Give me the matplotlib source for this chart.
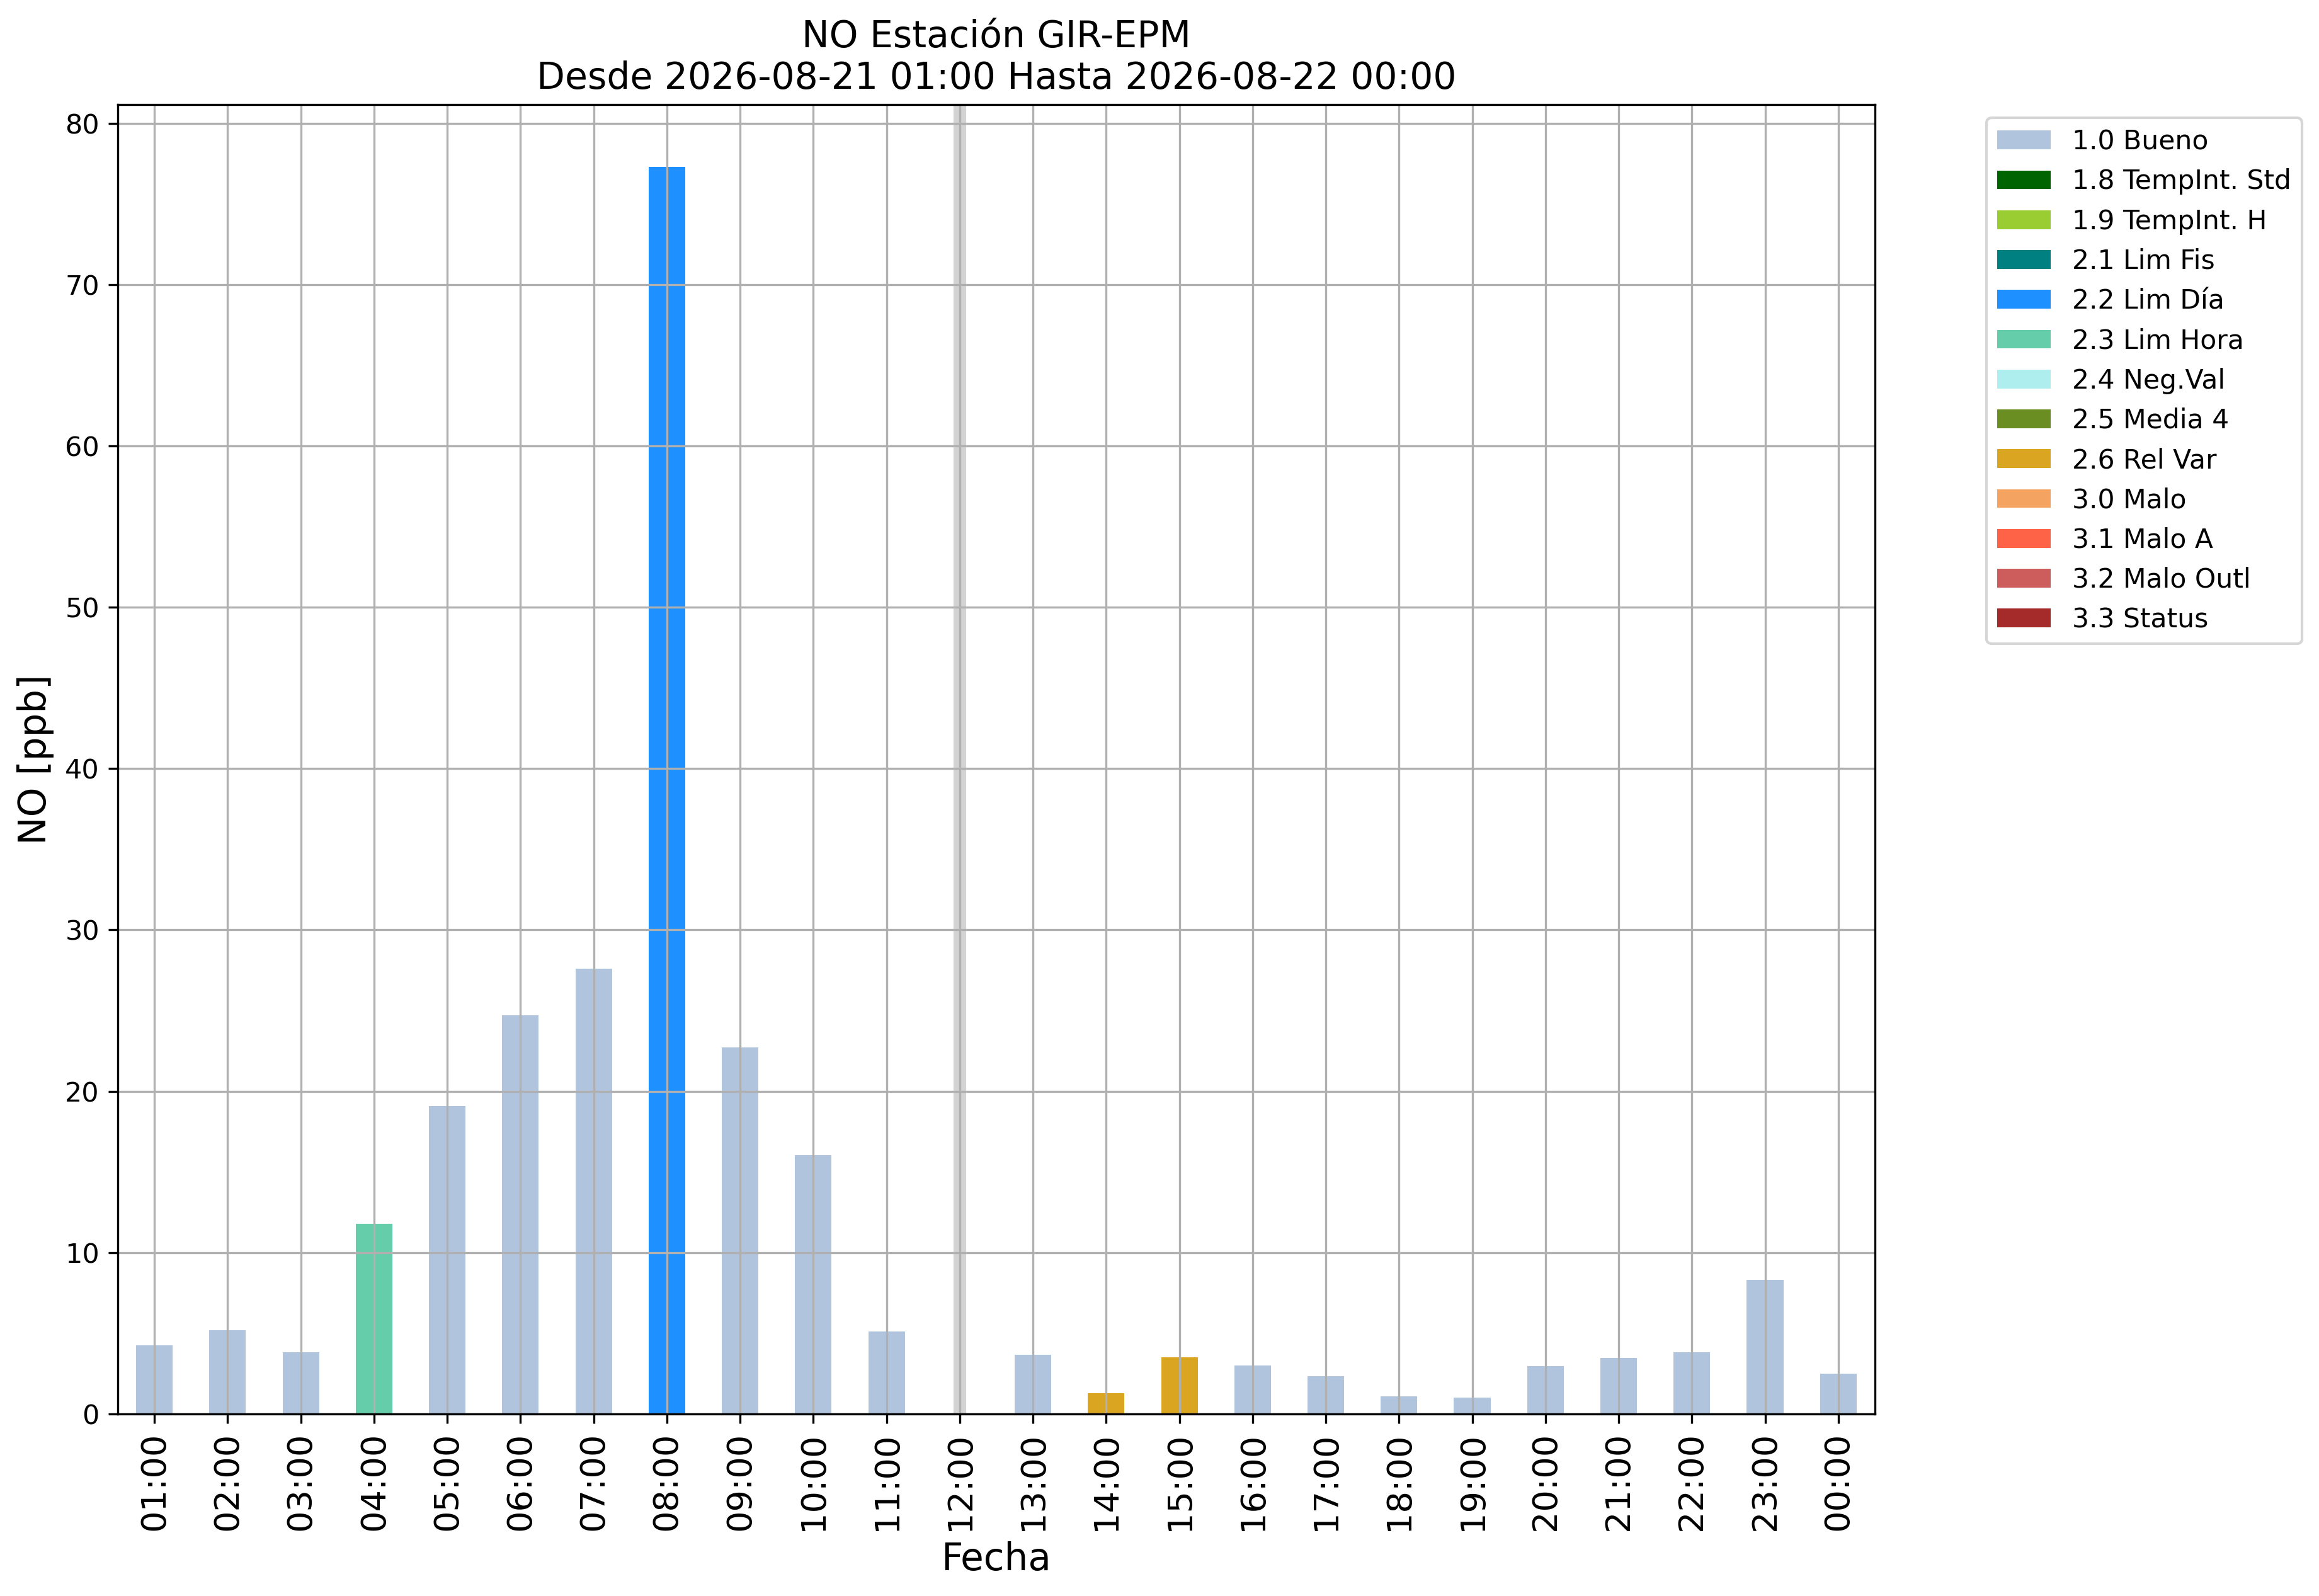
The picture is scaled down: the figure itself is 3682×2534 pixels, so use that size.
import numpy as np
import matplotlib
matplotlib.use('Agg')
import matplotlib.pyplot as plt
from matplotlib.patches import Patch

# datos
horas = ['01:00', '02:00', '03:00', '04:00', '05:00', '06:00', '07:00', '08:00',
         '09:00', '10:00', '11:00', '12:00', '13:00', '14:00', '15:00', '16:00',
         '17:00', '18:00', '19:00', '20:00', '21:00', '22:00', '23:00', '00:00']
valores = [4.26, 5.17, 3.83, 11.78, 19.08, 24.7, 27.6, 77.3,
           22.7, 16.03, 5.1, np.nan, 3.67, 1.29, 3.52, 3.0,
           2.34, 1.09, 1.02, 2.97, 3.48, 3.83, 8.32, 2.5]
banderas = ['1.0', '1.0', '1.0', '2.3', '1.0', '1.0', '1.0', '2.2',
            '1.0', '1.0', '1.0', None, '1.0', '2.6', '2.6', '1.0',
            '1.0', '1.0', '1.0', '1.0', '1.0', '1.0', '1.0', '1.0']

codigos = ['1.0', '1.8', '1.9', '2.1', '2.2', '2.3', '2.4', '2.5', '2.6',
           '3.0', '3.1', '3.2', '3.3']
nombres = ['1.0 Bueno', '1.8 TempInt. Std', '1.9 TempInt. H', '2.1 Lim Fis',
           '2.2 Lim Día', '2.3 Lim Hora', '2.4 Neg.Val', '2.5 Media 4',
           '2.6 Rel Var', '3.0 Malo', '3.1 Malo A', '3.2 Malo Outl', '3.3 Status']
colores = ['lightsteelblue', 'darkgreen', 'yellowgreen', 'teal', 'dodgerblue',
           'mediumaquamarine', 'paleturquoise', 'olivedrab', 'goldenrod',
           'sandybrown', 'tomato', 'indianred', 'brown']
color_de = dict(zip(codigos, colores))

DPI = 300
fig = plt.figure(figsize=(3682 / DPI, 2534 / DPI), dpi=DPI)
ax = fig.add_axes([0.0508, 0.1141, 0.7577, 0.8204])

x = np.arange(len(horas))
for i, (v, b) in enumerate(zip(valores, banderas)):
    if b is None or np.isnan(v):
        # hora sin dato
        ax.axvspan(i - 0.07, i + 0.07, color='lightgray', zorder=0.5)
        continue
    ax.bar(i, v, width=0.5, color=color_de[b])

ax.set_xlim(-0.5, len(horas) - 0.5)
ax.set_ylim(bottom=0)
ax.set_xticks(x)
ax.set_xticklabels(horas, rotation=90, fontsize=13)
ax.tick_params(axis='y', labelsize=10.3)
ax.grid(True)

ax.set_xlabel('Fecha', fontsize=14.3)
ax.set_ylabel('NO [ppb]', fontsize=14.3)
ax.set_title('NO Estación GIR-EPM\nDesde 2026-08-21 01:00 Hasta 2026-08-22 00:00',
             fontsize=14.0)

handles = [Patch(facecolor=c, label=n) for c, n in zip(colores, nombres)]
ax.legend(handles=handles, loc='upper left', bbox_to_anchor=(1.056, 1),
          fontsize=10.2)

fig.savefig('out.png', dpi=DPI)
